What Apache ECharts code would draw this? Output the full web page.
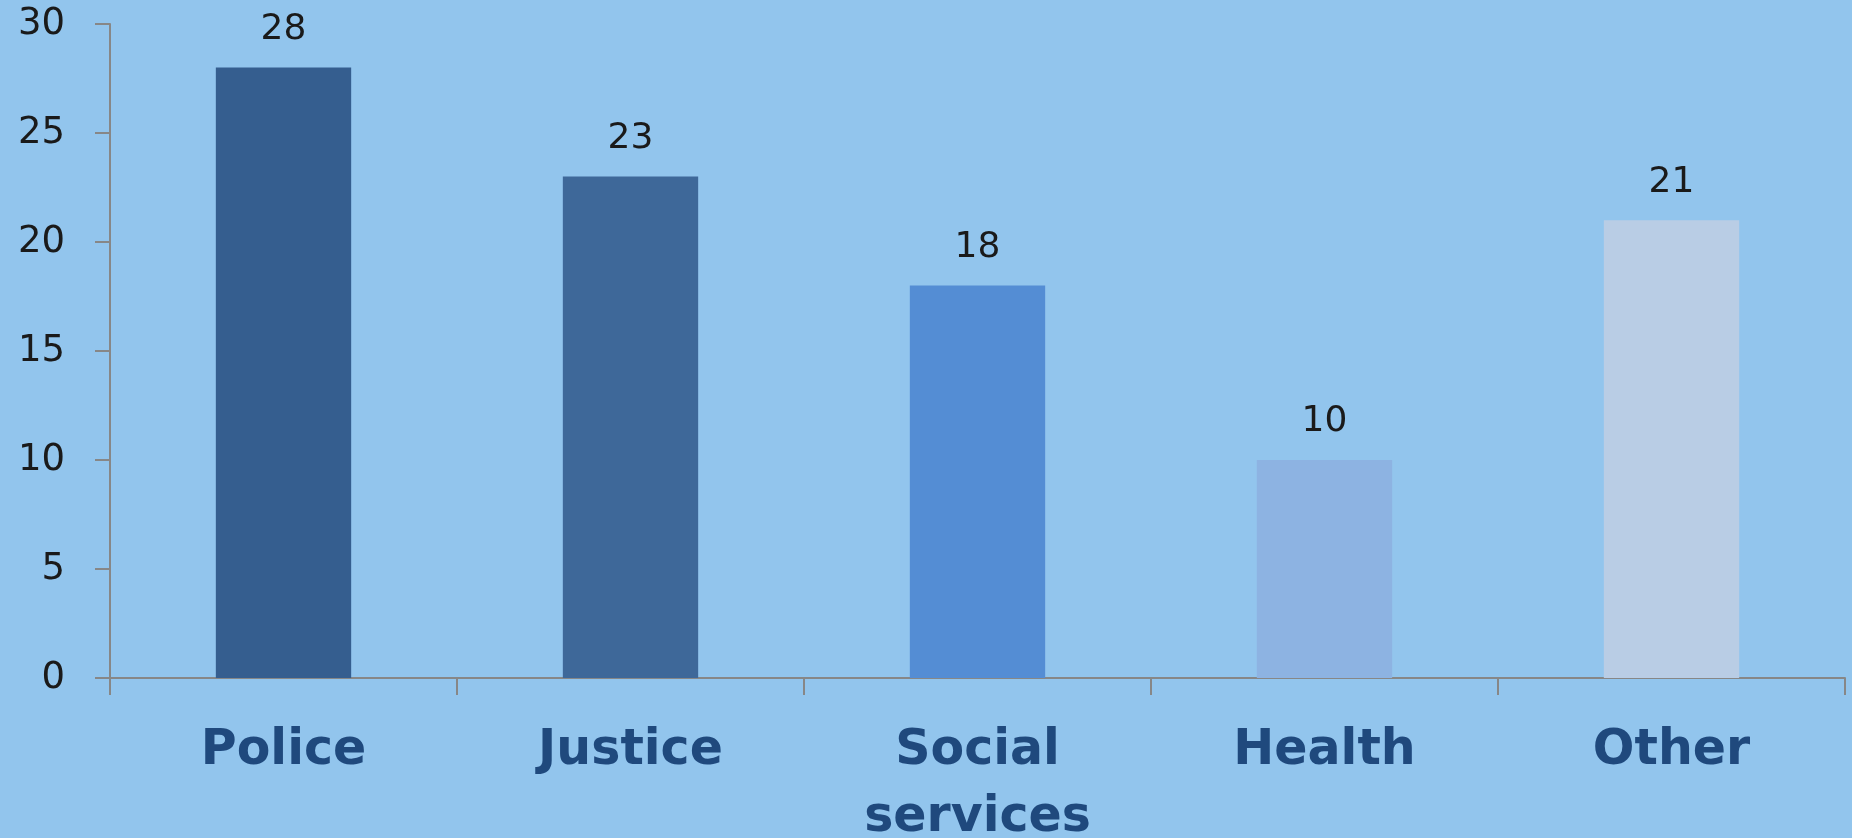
<!DOCTYPE html>
<html>
<head>
<meta charset="utf-8">
<script src="https://cdn.jsdelivr.net/npm/echarts@6/dist/echarts.min.js"></script>
<style>
html,body{margin:0;padding:0;background:#92c5ed;}
#chart{width:1852px;height:838px;}
</style>
</head>
<body>
<div id="chart"></div>
<script>
const categories = ['Police', 'Justice', 'Social\nservices', 'Health', 'Other'];
const values = [28, 23, 18, 10, 21];
const barColors = ['#355e8f', '#3e6899', '#548dd4', '#8db3e2', '#b9cde5'];
const yTicks = { min: 0, max: 30, interval: 5 };

const chart = echarts.init(document.getElementById('chart'), null, { renderer: 'canvas' });
chart.setOption({
  backgroundColor: '#92c5ed',
  animation: false,
  grid: { left: 110, right: 7, top: 24, bottom: 160, containLabel: false, outerBoundsMode: 'none' },
  xAxis: {
    type: 'category',
    data: categories,
    axisLine: { lineStyle: { color: '#878787', width: 2 } },
    axisTick: { show: true, length: 17, lineStyle: { color: '#878787', width: 2 } },
    axisLabel: {
      interval: 0,
      margin: 40,
      color: '#1f497d',
      fontFamily: 'DejaVu Sans',
      fontWeight: 'bold',
      fontSize: 49,
      lineHeight: 67,
      verticalAlign: 'top'
    }
  },
  yAxis: {
    type: 'value',
    min: yTicks.min,
    max: yTicks.max,
    interval: yTicks.interval,
    splitLine: { show: false },
    axisLine: { show: true, lineStyle: { color: '#878787', width: 2 } },
    axisTick: { show: true, length: 15, lineStyle: { color: '#878787', width: 2 } },
    axisLabel: {
      margin: 45,
      color: '#1a1a1a',
      fontFamily: 'DejaVu Sans',
      fontSize: 37
    }
  },
  series: [{
    type: 'bar',
    barWidth: '39%',
    data: values.map((v, i) => ({ value: v, itemStyle: { color: barColors[i] } })),
    label: {
      show: true,
      position: 'top',
      distance: 20,
      color: '#1a1a1a',
      fontFamily: 'DejaVu Sans',
      fontSize: 36
    }
  }]
});
</script>
</body>
</html>
